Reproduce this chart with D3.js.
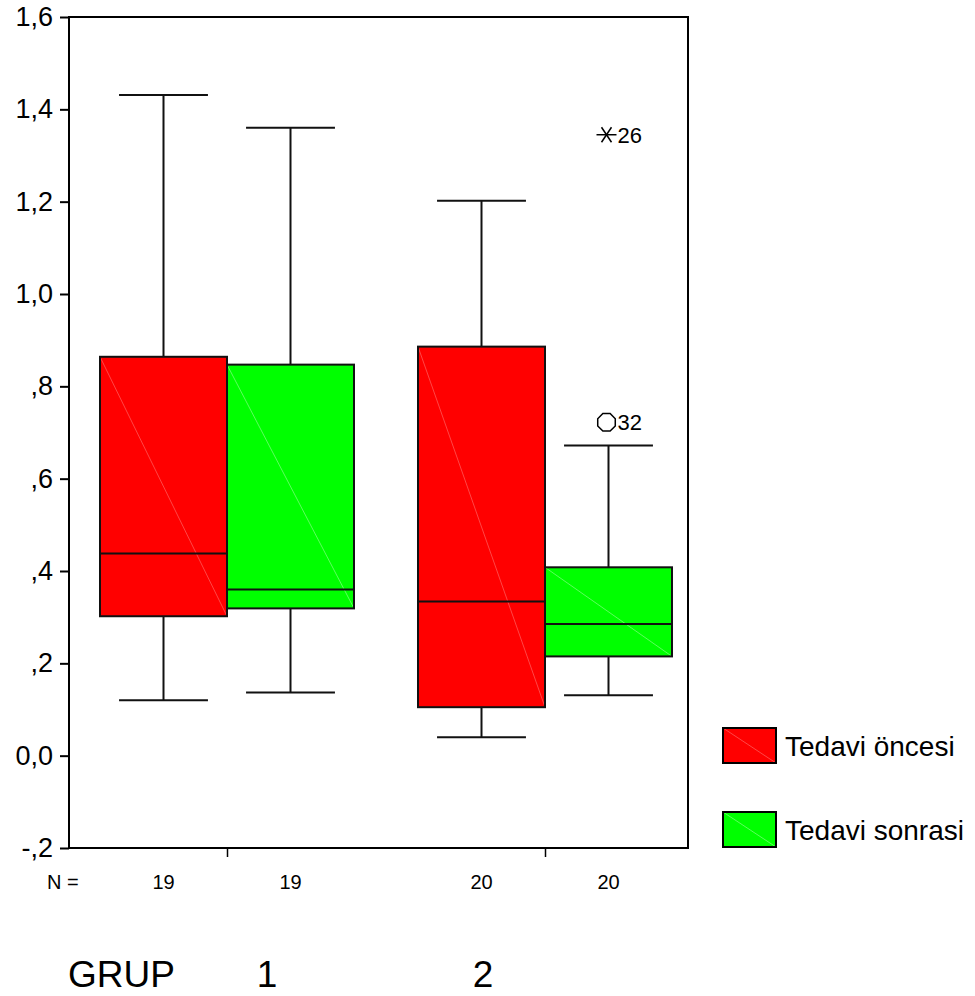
<!DOCTYPE html>
<html>
<head>
<meta charset="utf-8">
<script src="https://cdn.jsdelivr.net/npm/d3@7"></script>
<style>
  body { margin: 0; background: #fff; }
  text { font-family: Arial, "Liberation Sans", sans-serif; fill: #000; }
</style>
</head>
<body>
<div id="chart"></div>
<script>
// data
var groups = ["1", "2"];
var seriesNames = ["Tedavi öncesi", "Tedavi sonrasi"];
var seriesColors = ["#ff0000", "#00ff00"];
var diagColors = ["#ff4646", "#5cff5c"];
// [low whisker, Q1, median, Q3, high whisker] per group, per series
var oncesi = [[0.120, 0.302, 0.438, 0.864, 1.431], [0.040, 0.105, 0.334, 0.886, 1.202]];
var sonrasi = [[0.137, 0.319, 0.360, 0.847, 1.360], [0.131, 0.215, 0.285, 0.408, 0.672]];
var counts = [[19, 19], [20, 20]];
// outliers: [group index, series index, value, case label, type]
var outliers = [[1, 1, 1.345, "26", "extreme"], [1, 1, 0.722, "32", "outlier"]];
var yTicks = [-0.2, 0, 0.2, 0.4, 0.6, 0.8, 1.0, 1.2, 1.4, 1.6];
var yTickLabels = ["-,2", "0,0", ",2", ",4", ",6", ",8", "1,0", "1,2", "1,4", "1,6"];

var W = 975, H = 996;
var plot = {left: 69, right: 688, top: 17, bottom: 848};
var boxW = 127;

var svg = d3.select("#chart").append("svg")
    .attr("width", W)
    .attr("height", H);

var y = d3.scaleLinear().domain([-0.2, 1.6]).range([plot.bottom, plot.top]);
// group centers
var x = d3.scaleLinear().domain([1, 2]).range([227, 545]);

var allSeries = [oncesi, sonrasi];

// frame
svg.append("rect")
    .attr("x", plot.left).attr("y", plot.top)
    .attr("width", plot.right - plot.left).attr("height", plot.bottom - plot.top)
    .attr("fill", "none").attr("stroke", "#000").attr("stroke-width", 2);

// y axis
var yAxis = d3.axisLeft(y)
    .tickValues(yTicks)
    .tickSize(9)
    .tickFormat((d, i) => yTickLabels[i]);
var gy = svg.append("g")
    .attr("transform", `translate(${plot.left},0)`)
    .call(yAxis);
gy.select(".domain").remove();
gy.selectAll(".tick line").attr("stroke", "#000").attr("stroke-width", 2);
gy.selectAll(".tick text")
    .attr("x", -16)
    .style("font-size", "27px")
    .style("font-family", "Arial, 'Liberation Sans', sans-serif");

// x axis ticks at group centers
var xAxis = d3.axisBottom(d3.scalePoint().domain(groups).range([x(1), x(2)]))
    .tickSize(9)
    .tickFormat("");
var gx = svg.append("g")
    .attr("transform", `translate(0,${plot.bottom})`)
    .call(xAxis);
gx.select(".domain").remove();
gx.selectAll(".tick line").attr("stroke", "#000").attr("stroke-width", 1.5);

// boxes
function boxLeft(gi, si) {
    return si === 0 ? x(gi + 1) - boxW : x(gi + 1);
}

allSeries.forEach(function(series, si) {
    series.forEach(function(s, gi) {
        var bx = boxLeft(gi, si);
        var cx = bx + boxW / 2;
        var capW = boxW * 0.7;
        var g = svg.append("g");

        // whiskers
        g.append("line")
            .attr("x1", cx).attr("x2", cx)
            .attr("y1", y(s[4])).attr("y2", y(s[3]))
            .attr("stroke", "#111").attr("stroke-width", 2);
        g.append("line")
            .attr("x1", cx).attr("x2", cx)
            .attr("y1", y(s[1])).attr("y2", y(s[0]))
            .attr("stroke", "#111").attr("stroke-width", 2);
        g.append("line")
            .attr("x1", cx - capW / 2).attr("x2", cx + capW / 2)
            .attr("y1", y(s[4])).attr("y2", y(s[4]))
            .attr("stroke", "#111").attr("stroke-width", 2);
        g.append("line")
            .attr("x1", cx - capW / 2).attr("x2", cx + capW / 2)
            .attr("y1", y(s[0])).attr("y2", y(s[0]))
            .attr("stroke", "#111").attr("stroke-width", 2);

        // box
        g.append("rect")
            .attr("x", bx).attr("y", y(s[3]))
            .attr("width", boxW).attr("height", y(s[1]) - y(s[3]))
            .attr("fill", seriesColors[si]);
        g.append("line")
            .attr("x1", bx).attr("y1", y(s[3]))
            .attr("x2", bx + boxW).attr("y2", y(s[1]))
            .attr("stroke", diagColors[si]).attr("stroke-width", 1);
        g.append("rect")
            .attr("x", bx).attr("y", y(s[3]))
            .attr("width", boxW).attr("height", y(s[1]) - y(s[3]))
            .attr("fill", "none").attr("stroke", "#111").attr("stroke-width", 2);
        // median
        g.append("line")
            .attr("x1", bx).attr("x2", bx + boxW)
            .attr("y1", y(s[2])).attr("y2", y(s[2]))
            .attr("stroke", "#111").attr("stroke-width", 2);

        // N label
        svg.append("text")
            .attr("x", cx).attr("y", 889)
            .attr("text-anchor", "middle")
            .style("font-size", "20px")
            .text(counts[gi][si]);
    });
});

svg.append("text")
    .attr("x", 47).attr("y", 889)
    .style("font-size", "20px")
    .text("N =");

// outliers
outliers.forEach(function(o) {
    var cx = boxLeft(o[0], o[1]) + boxW / 2 - 2;
    var cy = y(o[2]);
    if (o[4] === "extreme") {
        var r = 10;
        var star = svg.append("g").attr("stroke", "#000").attr("stroke-width", 1.5);
        star.append("line").attr("x1", cx - r).attr("x2", cx + r).attr("y1", cy).attr("y2", cy);
        star.append("line").attr("x1", cx - r * 0.5).attr("x2", cx + r * 0.5)
            .attr("y1", cy - r * 0.75).attr("y2", cy + r * 0.75);
        star.append("line").attr("x1", cx + r * 0.5).attr("x2", cx - r * 0.5)
            .attr("y1", cy - r * 0.75).attr("y2", cy + r * 0.75);
    } else {
        var pts = d3.range(8).map(function(i) {
            var a = Math.PI / 8 + i * Math.PI / 4;
            return [cx + 9.5 * Math.cos(a), cy + 9.5 * Math.sin(a)];
        });
        svg.append("polygon")
            .attr("points", pts.map(p => p.join(",")).join(" "))
            .attr("fill", "none").attr("stroke", "#000").attr("stroke-width", 1.5);
    }
    svg.append("text")
        .attr("x", cx + 11).attr("y", cy + 8)
        .style("font-size", "22px")
        .text(o[3]);
});

// legend
seriesNames.forEach(function(name, i) {
    var ly = i === 0 ? 728 : 812;
    svg.append("rect")
        .attr("x", 723).attr("y", ly)
        .attr("width", 53).attr("height", 35)
        .attr("fill", seriesColors[i]);
    svg.append("line")
        .attr("x1", 723).attr("y1", ly)
        .attr("x2", 776).attr("y2", ly + 35)
        .attr("stroke", diagColors[i]).attr("stroke-width", 1);
    svg.append("rect")
        .attr("x", 723).attr("y", ly)
        .attr("width", 53).attr("height", 35)
        .attr("fill", "none").attr("stroke", "#000").attr("stroke-width", 2);
    svg.append("text")
        .attr("x", 785).attr("y", ly + 28)
        .style("font-size", "28px")
        .text(name);
});

// group labels
svg.append("text")
    .attr("x", 68).attr("y", 987)
    .style("font-size", "37px")
    .text("GRUP");
groups.forEach(function(g, i) {
    svg.append("text")
        .attr("x", i === 0 ? 267 : 483).attr("y", 987)
        .attr("text-anchor", "middle")
        .style("font-size", "37px")
        .text(g);
});
</script>
</body>
</html>
